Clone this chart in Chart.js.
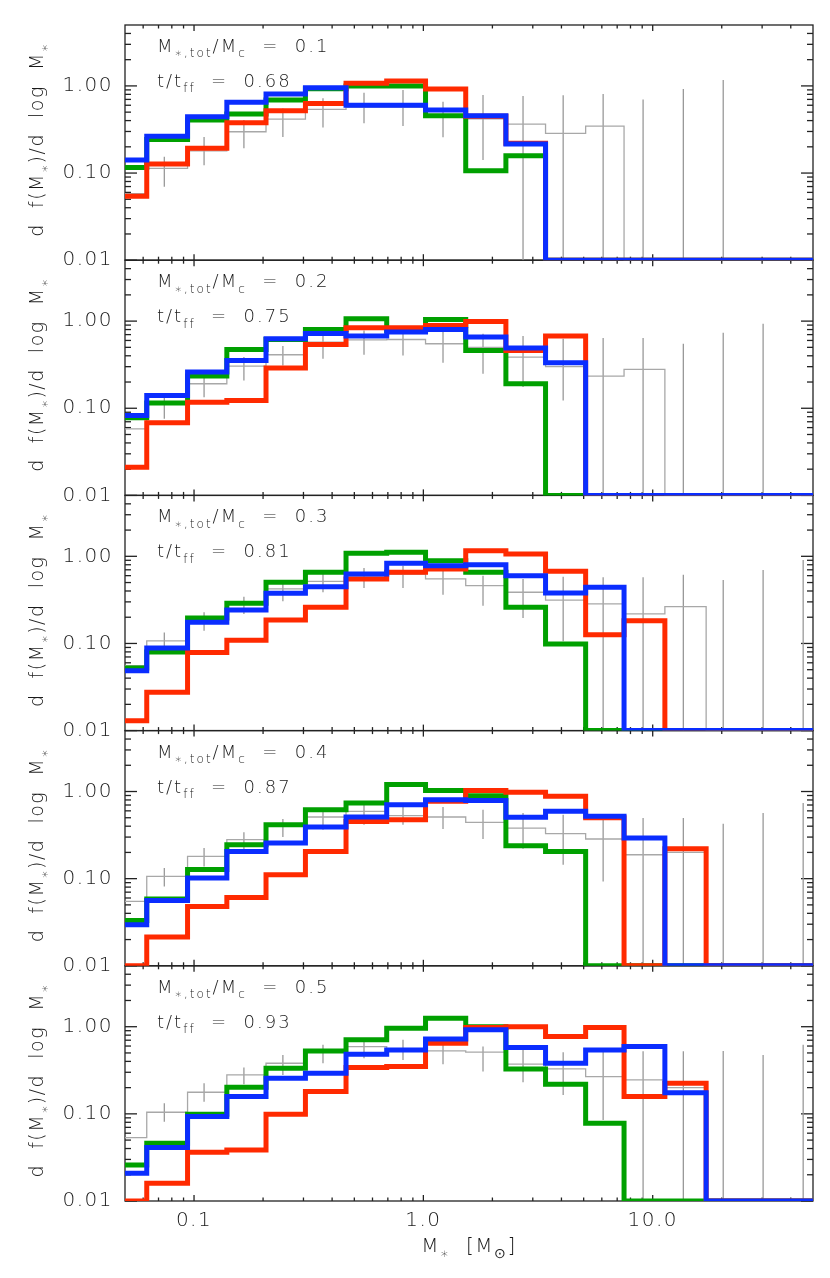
<!DOCTYPE html>
<html>
<head>
<meta charset="utf-8">
<script src="https://cdn.jsdelivr.net/npm/chart.js@4.4.1/dist/chart.umd.min.js"></script>
<style>
  html, body { margin: 0; padding: 0; background: #fff; }
</style>
</head>
<body>
<canvas id="imfChart" width="830" height="1278"></canvas>
<script>
// axis ranges and tick values
const YMIN = 0.01, YMAX = 5;
const XMIN = 0.05, XMAX = 50;
const xTicks = [0.1, 1, 10];
const xMinor = [0.06, 0.07, 0.08, 0.09, 0.2, 0.3, 0.4, 0.5, 0.6, 0.7, 0.8, 0.9, 2, 3, 4, 5, 6, 7, 8, 9, 20, 30, 40];
const yTicks = [0.01, 0.1, 1];
const yMinor = [0.02, 0.03, 0.04, 0.05, 0.06, 0.07, 0.08, 0.09, 0.2, 0.3, 0.4, 0.5, 0.6, 0.7, 0.8, 0.9, 2, 3, 4];

// histogram bins (left edges) and bin centres of the error bars
const binLo = [0.05, 0.0622, 0.0937, 0.139, 0.206, 0.306, 0.46, 0.692, 1.022, 1.53, 2.29, 3.41, 5.1, 7.5, 11.3, 17.1, 25.5, 38.2];
const binEnd = 50;
const errX = [0.0742, 0.1106, 0.165, 0.244, 0.365, 0.551, 0.815, 1.218, 1.82, 2.72, 4.07, 6.08, 9.08, 13.6, 20.3, 30.3, 45.3];

// panel labels
const massRatio = ['0.1', '0.2', '0.3', '0.4', '0.5'];
const timeRatio = ['0.68', '0.75', '0.81', '0.87', '0.93'];

// panel 1
const green1 = [0.116, 0.243, 0.405, 0.475, 0.688, 0.93, 0.996, 1.0, 0.454, 0.106, 0.158, 0, 0, 0, 0, 0, 0, 0];
const red1   = [0.0543, 0.127, 0.192, 0.378, 0.519, 0.63, 1.07, 1.14, 0.92, 0.45, 0.22, 0, 0, 0, 0, 0, 0, 0];
const blue1  = [0.141, 0.265, 0.442, 0.648, 0.806, 0.952, 0.598, 0.60, 0.528, 0.454, 0.215, 0, 0, 0, 0, 0, 0, 0];
const gray1  = [0.058, 0.113, 0.18, 0.298, 0.416, 0.538, 0.57, 0.57, 0.45, 0.42, 0.365, 0.285, 0.346, 0, 0, 0, 0, 0];
const errHi1 = [0.154, 0.26, 0.405, 0.552, 0.72, 0.835, 0.896, 0.658, 0.785, 0.765, 0.78, 0.806, 0.70, 0.92, 1.17, null, null];
const errLo1 = [0.0695, 0.123, 0.192, 0.26, 0.334, 0.372, 0.346, 0.257, 0.141, 0, 0, 0, 0, 0, 0, null, null];

// panel 2
const green2 = [0.078, 0.115, 0.234, 0.473, 0.615, 0.80, 1.064, 0.78, 1.045, 0.46, 0.191, 0, 0, 0, 0, 0, 0, 0];
const red2   = [0.0211, 0.068, 0.117, 0.123, 0.289, 0.539, 0.839, 0.84, 0.892, 0.99, 0.46, 0.673, 0, 0, 0, 0, 0, 0];
const blue2  = [0.0826, 0.14, 0.26, 0.353, 0.627, 0.721, 0.673, 0.749, 0.80, 0.656, 0.49, 0.332, 0, 0, 0, 0, 0, 0];
const gray2  = [0.058, 0.112, 0.191, 0.305, 0.411, 0.575, 0.61, 0.615, 0.55, 0.5, 0.387, 0.30, 0.234, 0.279, 0, 0, 0, 0];
const errHi2 = [0.134, 0.228, 0.387, 0.517, 0.684, 0.781, 0.716, 0.781, 0.716, 0.673, 0.627, 0.639, 0.64, 0.55, 0.735, 0.933, null];
const errLo2 = [0.0756, 0.134, 0.208, 0.31, 0.37, 0.411, 0.403, 0.332, 0.249, 0.175, 0.123, 0, 0, 0, 0, 0, null];

// panel 3
const green3 = [0.0522, 0.0797, 0.196, 0.289, 0.504, 0.656, 1.084, 1.113, 0.891, 0.656, 0.26, 0.0985, 0, 0, 0, 0, 0, 0];
const red3   = [0.013, 0.0275, 0.079, 0.109, 0.186, 0.26, 0.55, 0.656, 0.716, 1.16, 1.064, 0.673, 0.126, 0.182, 0, 0, 0, 0];
const blue3  = [0.0486, 0.0886, 0.175, 0.242, 0.376, 0.448, 0.627, 0.832, 0.781, 0.80, 0.60, 0.38, 0.441, 0, 0, 0, 0, 0];
const gray3  = [0.0555, 0.107, 0.18, 0.285, 0.422, 0.517, 0.575, 0.627, 0.55, 0.46, 0.387, 0.315, 0.284, 0.218, 0.264, 0, 0, 0];
const errHi3 = [0.134, 0.228, 0.344, 0.49, 0.639, 0.735, 0.781, 0.716, 0.6, 0.55, 0.584, 0.575, 0.575, 0.615, 0.535, 0.697, 0.908];
const errLo3 = [0.0826, 0.14, 0.218, 0.305, 0.387, 0.433, 0.433, 0.363, 0.271, 0.196, 0.106, 0, 0, 0, 0, 0, 0];

// panel 4
const green4 = [0.0331, 0.0583, 0.127, 0.245, 0.416, 0.619, 0.739, 1.2, 1.03, 0.896, 0.239, 0.2055, 0, 0, 0, 0, 0, 0];
const red4   = [0, 0.0214, 0.048, 0.0609, 0.111, 0.2055, 0.454, 0.475, 0.771, 1.03, 0.978, 0.88, 0.5, 0, 0.2207, 0, 0, 0];
const blue4  = [0.0296, 0.0562, 0.1017, 0.2055, 0.257, 0.392, 0.51, 0.707, 0.806, 0.791, 0.505, 0.592, 0.519, 0.293, 0, 0, 0, 0];
const gray4  = [0.0548, 0.106, 0.18, 0.28, 0.424, 0.51, 0.592, 0.53, 0.51, 0.442, 0.381, 0.328, 0.285, 0.188, 0.2, 0, 0, 0];
const errHi4 = [0.1325, 0.225, 0.34, 0.484, 0.619, 0.707, 0.665, 0.665, 0.619, 0.567, 0.542, 0.484, 0.497, 0.497, 0.427, 0.567, 0.739];
const errLo4 = [0.0814, 0.138, 0.219, 0.301, 0.365, 0.416, 0.416, 0.372, 0.285, 0.2207, 0.1445, 0.093, 0, 0, 0, 0, 0];

// panel 5
const green5 = [0.0259, 0.046, 0.099, 0.202, 0.334, 0.528, 0.707, 0.962, 1.254, 1.0, 0.328, 0.219, 0.078, 0, 0, 0, 0, 0];
const red5   = [0, 0.016, 0.0362, 0.0385, 0.099, 0.18, 0.34, 0.349, 0.648, 0.978, 1.0, 0.771, 0.978, 0.158, 0.225, 0, 0, 0];
const blue5  = [0.0208, 0.041, 0.093, 0.158, 0.257, 0.293, 0.484, 0.542, 0.725, 0.92, 0.576, 0.381, 0.542, 0.592, 0.175, 0, 0, 0];
const gray5  = [0.0533, 0.1044, 0.177, 0.28, 0.381, 0.542, 0.592, 0.55, 0.528, 0.51, 0.372, 0.328, 0.268, 0.245, 0.2, 0, 0, 0];
const errHi5 = [0.1325, 0.225, 0.34, 0.475, 0.619, 0.688, 0.707, 0.619, 0.592, 0.542, 0.51, 0.524, 0.524, 0.524, 0.528, 0.475, 0.619];
const errLo5 = [0.0814, 0.138, 0.219, 0.28, 0.381, 0.436, 0.416, 0.372, 0.306, 0.231, 0.165, 0.0851, 0, 0, 0, 0, 0];

const panels = [
    { green: green1, red: red1, blue: blue1, gray: gray1, hi: errHi1, lo: errLo1 },
    { green: green2, red: red2, blue: blue2, gray: gray2, hi: errHi2, lo: errLo2 },
    { green: green3, red: red3, blue: blue3, gray: gray3, hi: errHi3, lo: errLo3 },
    { green: green4, red: red4, blue: blue4, gray: gray4, hi: errHi4, lo: errLo4 },
    { green: green5, red: red5, blue: blue5, gray: gray5, hi: errHi5, lo: errLo5 }
];

const FONT = '"DejaVu Sans", sans-serif';
const WEIGHT = 200; // thin look of the original; falls back to regular if missing
const INK = '#1a1a1a';

// histogram -> points at left bin edges, zero counts sit on the bottom axis
function stepData(vals) {
    const pts = binLo.map((x, i) => ({ x: x, y: Math.max(vals[i], YMIN) }));
    pts.push({ x: binEnd, y: Math.max(vals[vals.length - 1], YMIN) });
    return pts;
}

// vertical error bars, separated by gaps
function errData(hi, lo) {
    const pts = [];
    errX.forEach((x, i) => {
        if (hi[i] === null) return;
        pts.push({ x: x, y: Math.max(lo[i], YMIN) }, { x: x, y: hi[i] }, { x: x, y: null });
    });
    return pts;
}

function histSet(vals, axis, color, width, order) {
    return {
        data: stepData(vals),
        yAxisID: axis,
        showLine: true,
        stepped: 'before',
        borderColor: color,
        borderWidth: width,
        borderJoinStyle: 'miter',
        borderCapStyle: 'butt',
        pointRadius: 0,
        order: order
    };
}

const datasets = [];
panels.forEach((p, i) => {
    const axis = 'y' + (i + 1);
    datasets.push(histSet(p.blue, axis, '#0a2dff', 5, 1));
    datasets.push(histSet(p.red, axis, '#ff2a00', 5, 2));
    datasets.push(histSet(p.green, axis, '#00a000', 5, 3));
    datasets.push(histSet(p.gray, axis, '#a8a8a8', 1.3, 4));
    datasets.push({
        data: errData(p.hi, p.lo),
        yAxisID: axis,
        showLine: true,
        spanGaps: false,
        borderColor: '#999999',
        borderWidth: 1.3,
        pointRadius: 0,
        order: 5
    });
});

const scales = {
    x: {
        type: 'logarithmic',
        position: 'bottom',
        min: XMIN,
        max: XMAX,
        afterBuildTicks: s => { s.ticks = xTicks.map(v => ({ value: v })); },
        afterFit: s => { s.height = 77; },
        grid: { display: false, drawTicks: false },
        border: { display: false },
        ticks: {
            autoSkip: false,
            maxRotation: 0,
            padding: 8,
            color: INK,
            font: { family: FONT, size: 20, weight: WEIGHT },
            callback: v => Number(v).toFixed(1)
        }
    }
};
panels.forEach((p, i) => {
    scales['y' + (i + 1)] = {
        type: 'logarithmic',
        position: 'left',
        stack: 'panels',
        stackWeight: 1,
        weight: 5 - i,
        min: YMIN,
        max: YMAX,
        afterBuildTicks: s => { s.ticks = yTicks.map(v => ({ value: v })); },
        afterFit: s => { s.width = 125; },
        grid: { display: false, drawTicks: false },
        border: { display: false },
        ticks: {
            autoSkip: false,
            padding: 12,
            color: INK,
            font: { family: FONT, size: 20, weight: WEIGHT },
            callback: v => Number(v).toFixed(2)
        }
    };
});

// text with subscripts: parts = [[text, isSub], ...]
function fontFor(size, sub) {
    return WEIGHT + ' ' + (sub ? Math.round(size * 0.68) : size) + 'px ' + FONT;
}
function richWidth(ctx, parts, size) {
    let w = 0;
    parts.forEach(([t, sub]) => {
        ctx.font = fontFor(size, sub);
        w += ctx.measureText(t).width;
    });
    return w;
}
function drawRich(ctx, parts, x, y, size) {
    parts.forEach(([t, sub]) => {
        ctx.font = fontFor(size, sub);
        ctx.fillText(t, x, sub ? y + size * 0.3 : y);
        x += ctx.measureText(t).width;
    });
}

function line(ctx, x1, y1, x2, y2) {
    ctx.beginPath();
    ctx.moveTo(x1, y1);
    ctx.lineTo(x2, y2);
    ctx.stroke();
}

const frames = {
    id: 'frames',
    beforeDraw(chart) {
        chart.ctx.letterSpacing = '1.5px';
    },
    beforeDatasetsDraw(chart) {
        const ctx = chart.ctx;
        const xs = chart.scales.x;
        ctx.save();
        ctx.strokeStyle = '#222';
        ctx.lineWidth = 1.3;
        panels.forEach((p, i) => {
            const ys = chart.scales['y' + (i + 1)];
            const l = xs.left, r = xs.right, t = ys.top, b = ys.bottom;
            ctx.strokeRect(l, t, r - l, b - t);
            yTicks.concat(yMinor).forEach(v => {
                const py = ys.getPixelForValue(v);
                const len = yTicks.includes(v) ? 12 : 6;
                line(ctx, l, py, l + len, py);
                line(ctx, r, py, r - len, py);
            });
            xTicks.concat(xMinor).forEach(v => {
                const px = xs.getPixelForValue(v);
                const len = xTicks.includes(v) ? 6 : 3.5;
                line(ctx, px, b, px, b - len);
                line(ctx, px, t, px, t + len);
            });
        });
        ctx.restore();
    },
    afterDatasetsDraw(chart) {
        const ctx = chart.ctx;
        const xs = chart.scales.x;
        ctx.save();
        ctx.fillStyle = INK;
        ctx.textBaseline = 'alphabetic';
        ctx.textAlign = 'left';
        ctx.letterSpacing = '2px';
        panels.forEach((p, i) => {
            const ys = chart.scales['y' + (i + 1)];
            drawRich(ctx, [['M', 0], ['\u2217,tot', 1], ['/M', 0], ['c', 1], ['  =  ' + massRatio[i], 0]],
                xs.left + 32, ys.top + 27, 18);
            drawRich(ctx, [['t/t', 0], ['ff', 1], ['  =  ' + timeRatio[i], 0]],
                xs.left + 32, ys.top + 62, 18);

            // y title, rotated
            const yParts = [['d  f(M', 0], ['\u2217', 1], [')/d  log  M', 0], ['\u2217', 1]];
            ctx.save();
            ctx.letterSpacing = '1.5px';
            const w = richWidth(ctx, yParts, 19);
            ctx.translate(43, (ys.top + ys.bottom) / 2 - 3);
            ctx.rotate(-Math.PI / 2);
            drawRich(ctx, yParts, -w / 2, 0, 19);
            ctx.restore();
        });
        // x title
        const xParts = [['M', 0], ['\u2217', 1], ['  [M', 0], ['\u2299', 1], [']', 0]];
        ctx.letterSpacing = '1.5px';
        const wx = richWidth(ctx, xParts, 20);
        drawRich(ctx, xParts, (xs.left + xs.right) / 2 - wx / 2, xs.top + 51, 20);
        ctx.restore();
    },
    afterDraw(chart) {
        chart.ctx.letterSpacing = '0px';
    }
};

new Chart(document.getElementById('imfChart'), {
    type: 'scatter',
    data: { datasets: datasets },
    options: {
        responsive: false,
        animation: false,
        events: [],
        layout: { padding: { top: 25, right: 17, left: 0, bottom: 0 } },
        plugins: { legend: { display: false }, tooltip: { enabled: false } },
        scales: scales
    },
    plugins: [frames]
});
</script>
</body>
</html>
